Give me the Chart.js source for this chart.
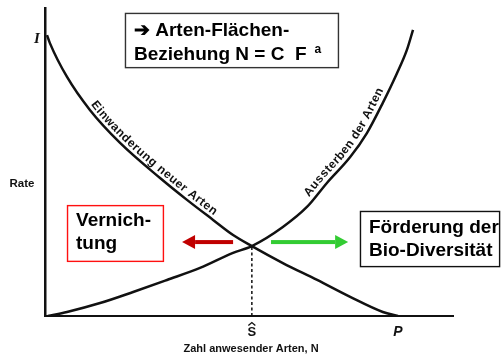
<!DOCTYPE html>
<html>
<head>
<meta charset="utf-8">
<script src="https://cdn.jsdelivr.net/npm/chart.js@4.4.0/dist/chart.umd.min.js"></script>
<style>
  html, body { margin: 0; padding: 0; background: #fff; }
  canvas { display: block; }
</style>
</head>
<body>
<canvas id="chart" width="502" height="356"></canvas>
<script>
// values (x: Zahl anwesender Arten, y: Rate, both 0..100)
const immigrationX = [0.5, 1.2, 5.4, 11.0, 18.4, 28.2, 34.8, 41.2, 46.1, 50.7, 58.3, 66.7, 74.8, 82.8, 86.5];
const immigrationY = [91.2, 88.6, 77.6, 66.9, 56.2, 44.8, 37.7, 31.2, 26.3, 22.7, 17.2, 11.7, 6.2, 1.3, 0];
const extinctionX = [0.7, 5.4, 13.5, 21.6, 29.9, 38.0, 46.1, 50.7, 58.3, 64.2, 69.1, 74.8, 78.9, 82.8, 86.3, 88.7, 90.2];
const extinctionY = [0, 1.3, 4.2, 7.8, 11.7, 15.6, 20.5, 22.7, 28.9, 35.4, 43.2, 51.6, 59.4, 69.2, 78.9, 86.4, 92.9];
const equilibriumX = 50.7;
const equilibriumY = 22.7;

const immigrationLabel = 'Einwanderung neuer Arten';
const extinctionLabel = 'Aussterben der Arten';
const xAxisLabel = 'Zahl anwesender Arten, N';
const yAxisLabel = 'Rate';

const toPoints = (xs, ys) => xs.map((x, i) => ({ x: x, y: ys[i] }));

// sample the drawn (monotone) curve from the point elements
function samplePath(meta) {
  const pts = meta.data;
  const out = [];
  for (let i = 0; i < pts.length - 1; i++) {
    const a = pts[i], b = pts[i + 1];
    const c1x = a.cp2x ?? a.x, c1y = a.cp2y ?? a.y;
    const c2x = b.cp1x ?? b.x, c2y = b.cp1y ?? b.y;
    for (let t = 0; t < 1; t += 0.05) {
      const u = 1 - t;
      out.push({
        x: u*u*u*a.x + 3*u*u*t*c1x + 3*u*t*t*c2x + t*t*t*b.x,
        y: u*u*u*a.y + 3*u*u*t*c1y + 3*u*t*t*c2y + t*t*t*b.y
      });
    }
  }
  const last = pts[pts.length - 1];
  out.push({ x: last.x, y: last.y });
  return out;
}

function textOnPath(ctx, path, text, startPx, offset, spacing) {
  const cum = [0];
  for (let i = 1; i < path.length; i++) {
    cum.push(cum[i - 1] + Math.hypot(path[i].x - path[i-1].x, path[i].y - path[i-1].y));
  }
  let start = 0;
  for (let i = 0; i < path.length; i++) {
    if (path[i].x >= startPx) { start = cum[i]; break; }
  }
  const at = d => {
    let i = 1;
    while (i < cum.length - 1 && cum[i] < d) i++;
    const f = (d - cum[i-1]) / (cum[i] - cum[i-1] || 1);
    return {
      x: path[i-1].x + f * (path[i].x - path[i-1].x),
      y: path[i-1].y + f * (path[i].y - path[i-1].y),
      a: Math.atan2(path[i].y - path[i-1].y, path[i].x - path[i-1].x)
    };
  };
  let dist = start;
  ctx.textAlign = 'center';
  ctx.textBaseline = 'alphabetic';
  for (const ch of text) {
    const w = ctx.measureText(ch).width;
    const p = at(dist + w / 2);
    ctx.save();
    ctx.translate(p.x, p.y);
    ctx.rotate(p.a);
    ctx.fillText(ch, 0, -offset);
    ctx.restore();
    dist += w + spacing;
  }
}

function arrow(ctx, x1, x2, y, color) {
  const dir = Math.sign(x2 - x1);
  const head = 13;
  ctx.fillStyle = color;
  ctx.fillRect(Math.min(x1, x2 - dir * head), y - 2, Math.abs(x2 - dir * head - x1), 4);
  ctx.beginPath();
  ctx.moveTo(x2, y);
  ctx.lineTo(x2 - dir * head, y - 7);
  ctx.lineTo(x2 - dir * head, y + 7);
  ctx.closePath();
  ctx.fill();
}

const boxFont = 'bold 19px "Liberation Sans", Arial, sans-serif';

function box(ctx, x, y, w, h, border, lines, textX, lineYs) {
  ctx.fillStyle = '#fff';
  ctx.fillRect(x, y, w, h);
  ctx.strokeStyle = border;
  ctx.lineWidth = 1.4;
  ctx.strokeRect(x + 0.5, y + 0.5, w, h);
  ctx.fillStyle = '#000';
  ctx.font = boxFont;
  ctx.textAlign = 'left';
  ctx.textBaseline = 'middle';
  lines.forEach((t, i) => ctx.fillText(t, textX, lineYs[i]));
}

const annotations = {
  id: 'annotations',
  afterDatasetsDraw(chart) {
    const ctx = chart.ctx;
    const xs = chart.scales.x, ys = chart.scales.y;
    const area = chart.chartArea;
    const px = v => xs.getPixelForValue(v);
    const py = v => ys.getPixelForValue(v);
    ctx.save();

    // labels along the curves
    ctx.fillStyle = '#111';
    ctx.font = 'bold 12px "Liberation Sans", Arial, sans-serif';
    textOnPath(ctx, samplePath(chart.getDatasetMeta(0)), immigrationLabel, 87, 4, 0.6);
    textOnPath(ctx, samplePath(chart.getDatasetMeta(1)), extinctionLabel, 312, 5, 0.5);

    // arrows
    const arrowY = py(24);
    arrow(ctx, px(46.1), px(33.6), arrowY, '#c00000');
    arrow(ctx, px(55.4), px(74.3), arrowY, '#33cc33');

    // boxes
    box(ctx, px(19.6), py(98.4), px(71.8) - px(19.6), py(80.8) - py(98.4), '#333',
      ['\u2794 Arten-Flächen-', 'Beziehung N = C  F'], px(21.8), [py(92.5), py(84.7)]);
    const wEq = ctx.measureText('Beziehung N = C  F').width;
    ctx.font = 'bold 12px "Liberation Sans", Arial, sans-serif';
    ctx.fillText('a', px(21.8) + wEq + 8, py(86.6));

    box(ctx, px(5.4), py(36.0), px(28.9) - px(5.4), py(17.9) - py(36.0), '#ff1010',
      ['Vernich-', 'tung'], px(7.6), [py(30.8), py(23.3)]);
    box(ctx, px(77.2), py(34.1), px(111.3) - px(77.2), py(16.2) - py(34.1), '#111',
      ['Förderung der', 'Bio-Diversität'], px(79.4), [py(28.8), py(21.3)]);

    // axis marks
    ctx.fillStyle = '#111';
    ctx.textAlign = 'center';
    ctx.textBaseline = 'middle';
    ctx.font = 'bold italic 15px "Liberation Serif", serif';
    ctx.fillText('I', area.left - 8, py(immigrationY[0]) + 4);
    const sx = px(equilibriumX);
    ctx.font = 'bold 13px "Liberation Sans", Arial, sans-serif';
    ctx.fillText('S', sx, area.bottom + 16);
    ctx.lineWidth = 1.3;
    ctx.strokeStyle = '#111';
    ctx.beginPath();
    ctx.moveTo(sx - 3.5, area.bottom + 9.5);
    ctx.lineTo(sx, area.bottom + 6.5);
    ctx.lineTo(sx + 3.5, area.bottom + 9.5);
    ctx.stroke();
    ctx.font = 'bold italic 14px "Liberation Sans", Arial, sans-serif';
    ctx.fillText('P', px(immigrationX[immigrationX.length - 1]), area.bottom + 16);
    ctx.font = 'bold 11px "Liberation Sans", Arial, sans-serif';
    ctx.fillText(xAxisLabel, px(50.5), area.bottom + 33);
    ctx.font = 'bold 11.5px "Liberation Sans", Arial, sans-serif';
    ctx.fillText(yAxisLabel, 22, py(43));
    ctx.restore();
  }
};

const curveStyle = {
  showLine: true,
  borderColor: '#111',
  borderWidth: 2.5,
  pointRadius: 0,
  fill: false,
  cubicInterpolationMode: 'monotone'
};

new Chart(document.getElementById('chart'), {
  type: 'scatter',
  data: {
    datasets: [
      Object.assign({ label: immigrationLabel, data: toPoints(immigrationX, immigrationY) }, curveStyle),
      Object.assign({ label: extinctionLabel, data: toPoints(extinctionX, extinctionY) }, curveStyle),
      {
        label: 'S',
        data: [{ x: equilibriumX, y: 0 }, { x: equilibriumX, y: equilibriumY }],
        showLine: true,
        borderColor: '#111',
        borderWidth: 1.5,
        borderDash: [3, 2.5],
        pointRadius: 0
      }
    ]
  },
  options: {
    responsive: false,
    animation: false,
    layout: { padding: { left: 37, top: 8, right: 49, bottom: 32 } },
    plugins: { legend: { display: false }, tooltip: { enabled: false } },
    scales: {
      x: {
        type: 'linear', min: 0, max: 100,
        grid: { display: false },
        ticks: { display: false },
        border: { display: true, color: '#111', width: 2 }
      },
      y: {
        type: 'linear', min: 0, max: 100,
        grid: { display: false },
        ticks: { display: false },
        border: { display: true, color: '#111', width: 2.5 }
      }
    }
  },
  plugins: [annotations]
});
</script>
</body>
</html>
